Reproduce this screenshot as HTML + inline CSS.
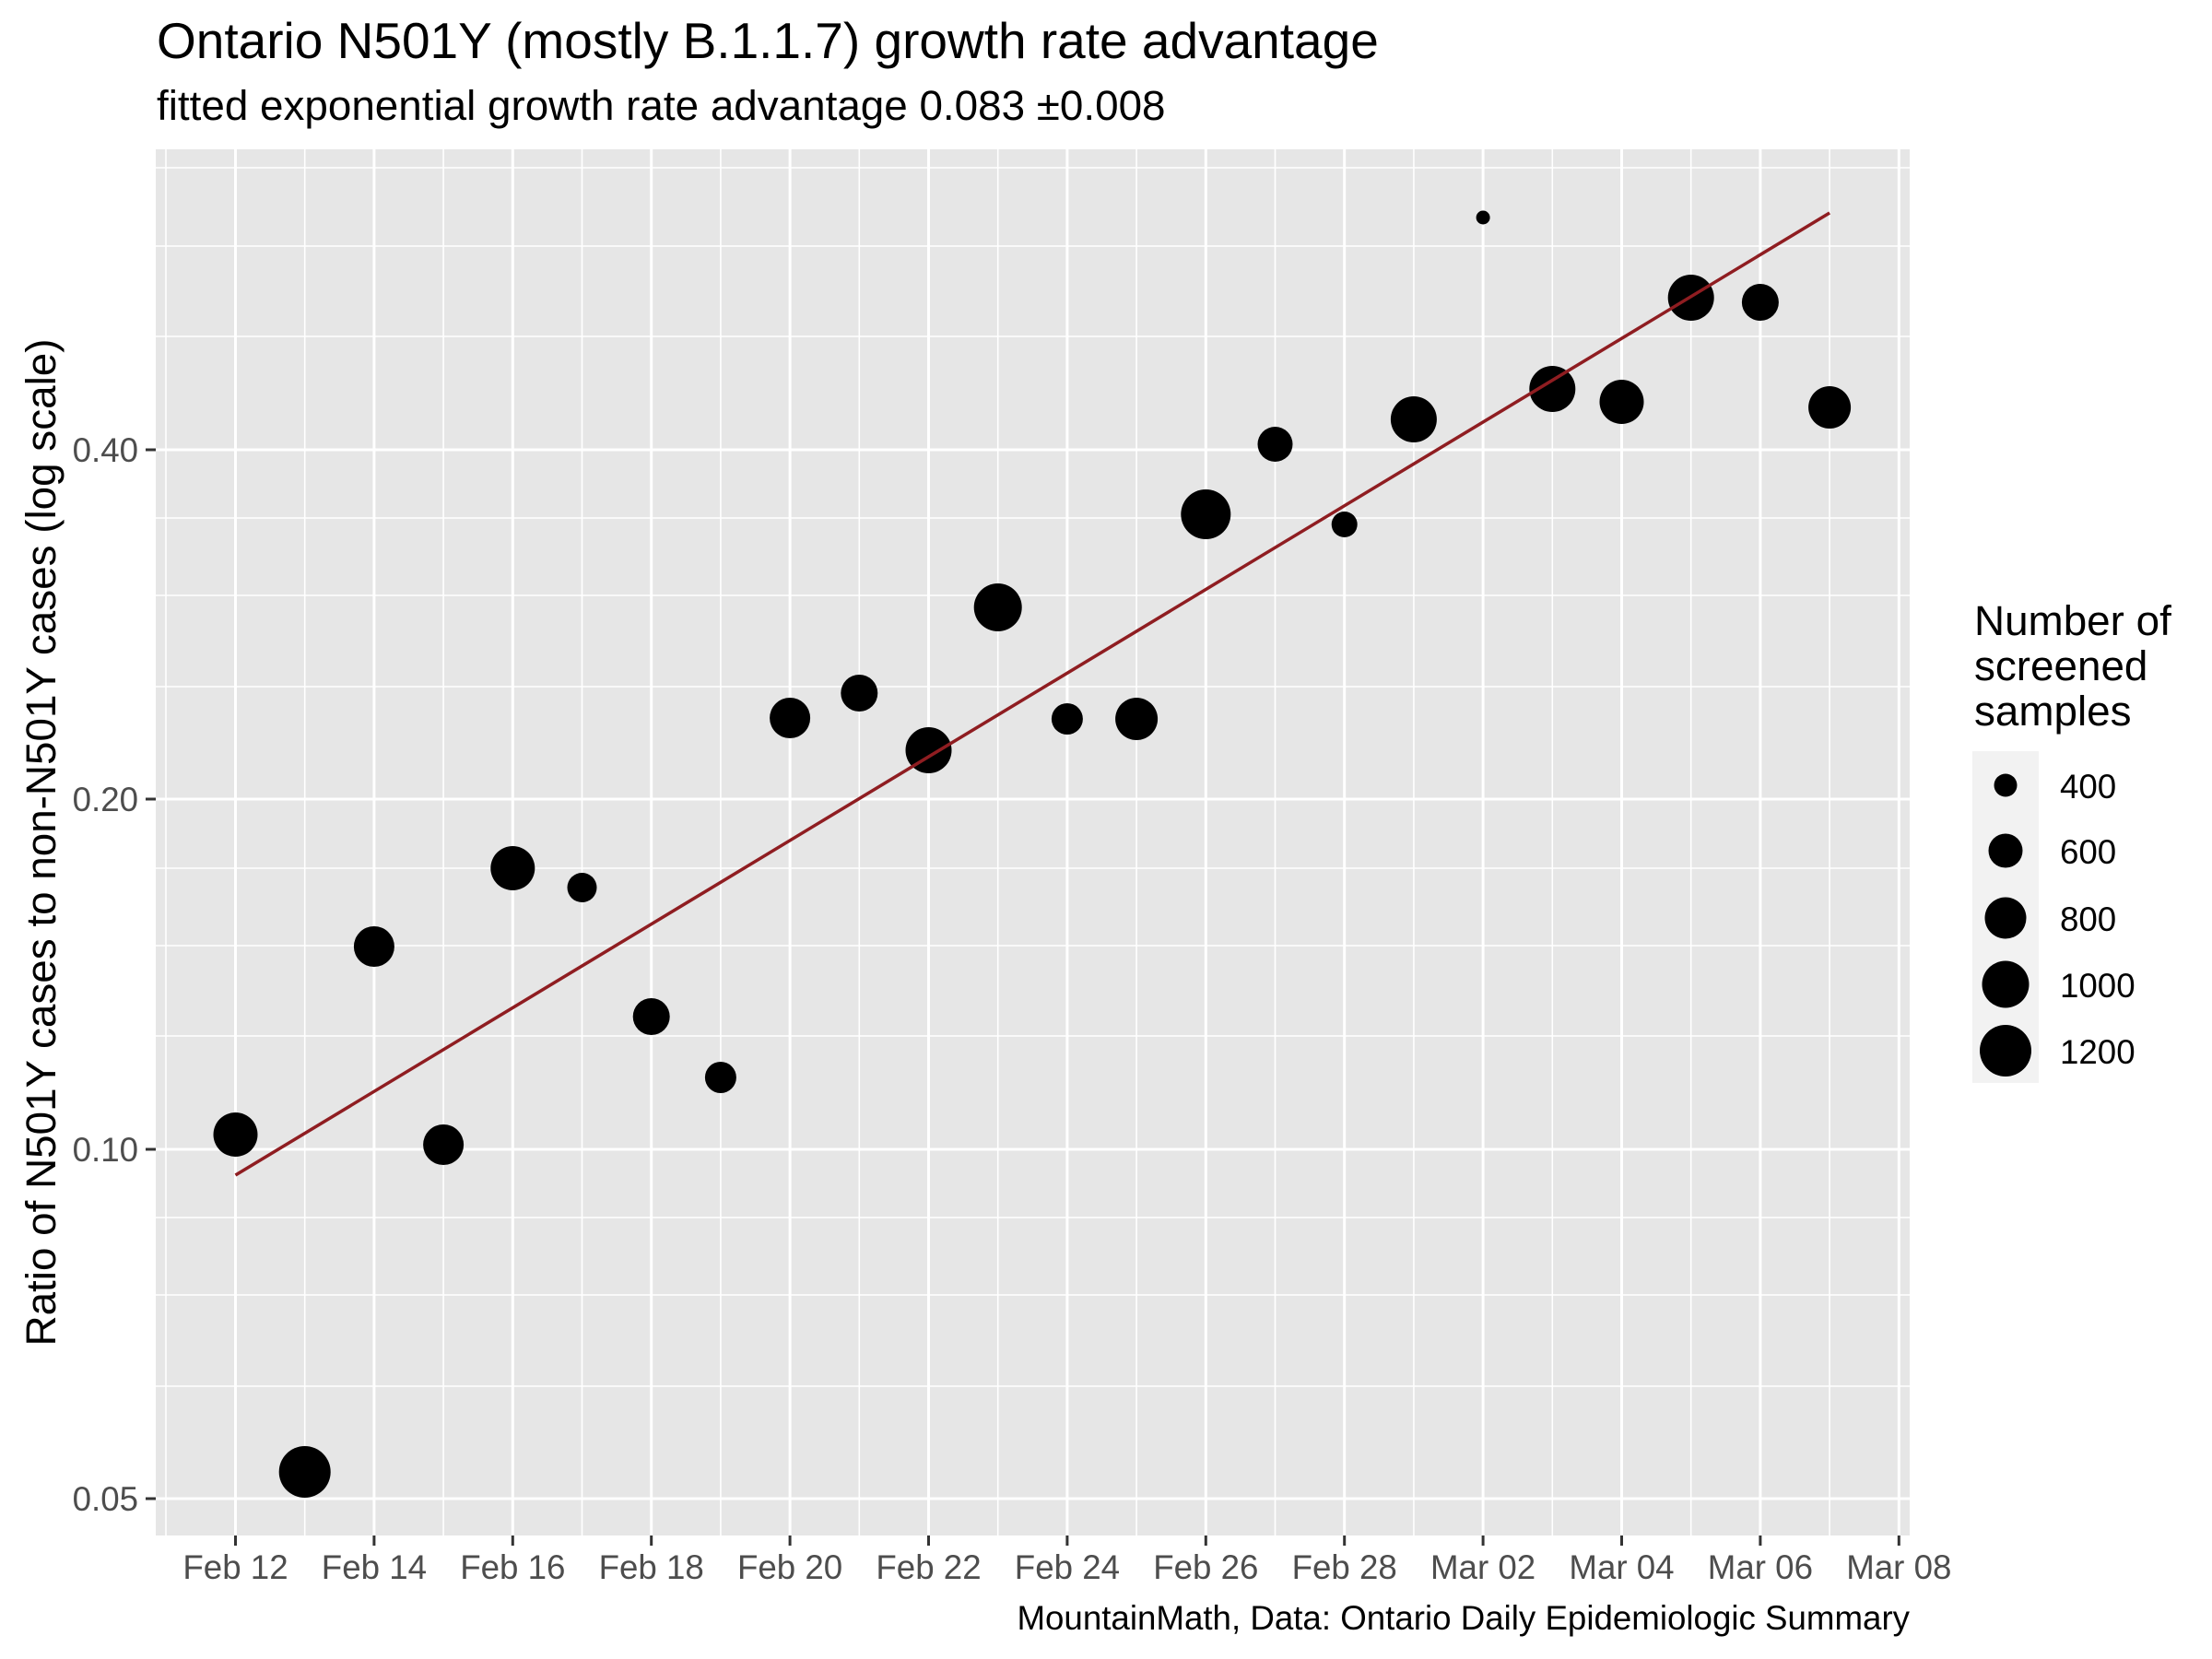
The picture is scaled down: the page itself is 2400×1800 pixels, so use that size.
<!DOCTYPE html>
<html><head><meta charset="utf-8"><style>html,body{margin:0;padding:0;background:#fff}svg{display:block}</style></head>
<body>
<svg width="2400" height="1800" viewBox="0 0 2400 1800" xmlns="http://www.w3.org/2000/svg" font-family="Liberation Sans, Arial, sans-serif">
<rect width="2400" height="1800" fill="#fff"/>
<rect x="169" y="162" width="1903" height="1504" fill="#e6e6e6"/>
<g stroke="#fff" stroke-width="1.6">
<line x1="169" x2="2072" y1="182" y2="182"/><line x1="169" x2="2072" y1="267" y2="267"/><line x1="169" x2="2072" y1="365" y2="365"/>
<line x1="169" x2="2072" y1="562" y2="562"/><line x1="169" x2="2072" y1="646" y2="646"/><line x1="169" x2="2072" y1="745" y2="745"/>
<line x1="169" x2="2072" y1="942" y2="942"/><line x1="169" x2="2072" y1="1026" y2="1026"/><line x1="169" x2="2072" y1="1124" y2="1124"/>
<line x1="169" x2="2072" y1="1321" y2="1321"/><line x1="169" x2="2072" y1="1405" y2="1405"/><line x1="169" x2="2072" y1="1504" y2="1504"/>
<line y1="162" y2="1666" x1="180" x2="180"/><line y1="162" y2="1666" x1="330.7" x2="330.7"/><line y1="162" y2="1666" x1="481.1" x2="481.1"/>
<line y1="162" y2="1666" x1="631.5" x2="631.5"/><line y1="162" y2="1666" x1="781.9" x2="781.9"/><line y1="162" y2="1666" x1="932.3" x2="932.3"/>
<line y1="162" y2="1666" x1="1082.7" x2="1082.7"/><line y1="162" y2="1666" x1="1233.1" x2="1233.1"/><line y1="162" y2="1666" x1="1383.5" x2="1383.5"/>
<line y1="162" y2="1666" x1="1533.9" x2="1533.9"/><line y1="162" y2="1666" x1="1684.3" x2="1684.3"/><line y1="162" y2="1666" x1="1834.7" x2="1834.7"/>
<line y1="162" y2="1666" x1="1985.1" x2="1985.1"/>
</g>
<g stroke="#fff" stroke-width="3">
<line x1="169" x2="2072" y1="488" y2="488"/><line x1="169" x2="2072" y1="867" y2="867"/><line x1="169" x2="2072" y1="1247" y2="1247"/><line x1="169" x2="2072" y1="1626" y2="1626"/>
<line y1="162" y2="1666" x1="255.5" x2="255.5"/><line y1="162" y2="1666" x1="405.9" x2="405.9"/><line y1="162" y2="1666" x1="556.3" x2="556.3"/>
<line y1="162" y2="1666" x1="706.7" x2="706.7"/><line y1="162" y2="1666" x1="857.1" x2="857.1"/><line y1="162" y2="1666" x1="1007.5" x2="1007.5"/>
<line y1="162" y2="1666" x1="1157.9" x2="1157.9"/><line y1="162" y2="1666" x1="1308.3" x2="1308.3"/><line y1="162" y2="1666" x1="1458.7" x2="1458.7"/>
<line y1="162" y2="1666" x1="1609.1" x2="1609.1"/><line y1="162" y2="1666" x1="1759.5" x2="1759.5"/><line y1="162" y2="1666" x1="1909.9" x2="1909.9"/>
<line y1="162" y2="1666" x1="2060.3" x2="2060.3"/>
</g>
<g fill="#000">
<circle cx="255.5" cy="1231" r="24"/><circle cx="330.7" cy="1597" r="28"/><circle cx="405.9" cy="1027" r="22"/>
<circle cx="481.1" cy="1242" r="22"/><circle cx="556.3" cy="942" r="24"/><circle cx="631.5" cy="963" r="16"/>
<circle cx="706.7" cy="1103" r="20"/><circle cx="781.9" cy="1169" r="17"/><circle cx="857.1" cy="779" r="22"/>
<circle cx="932.3" cy="752" r="20"/><circle cx="1007.5" cy="814" r="25"/><circle cx="1082.7" cy="659" r="26"/>
<circle cx="1157.9" cy="780" r="17"/><circle cx="1233.1" cy="780" r="23"/><circle cx="1308.3" cy="558" r="27"/>
<circle cx="1383.5" cy="482" r="19"/><circle cx="1458.7" cy="569" r="14"/><circle cx="1533.9" cy="455" r="25"/>
<circle cx="1609.1" cy="236" r="7.5"/><circle cx="1684.3" cy="422" r="25"/><circle cx="1759.5" cy="436" r="24"/>
<circle cx="1834.7" cy="323" r="25"/><circle cx="1909.9" cy="328" r="20"/><circle cx="1985.1" cy="442" r="23"/>
</g>
<line x1="255.5" y1="1275" x2="1985.1" y2="231" stroke="#8f1d21" stroke-width="3.5"/>
<g stroke="#333" stroke-width="3">
<line x1="158" x2="169" y1="488" y2="488"/><line x1="158" x2="169" y1="867" y2="867"/><line x1="158" x2="169" y1="1247" y2="1247"/><line x1="158" x2="169" y1="1626" y2="1626"/>
<line y1="1666" y2="1677" x1="255.5" x2="255.5"/><line y1="1666" y2="1677" x1="405.9" x2="405.9"/><line y1="1666" y2="1677" x1="556.3" x2="556.3"/>
<line y1="1666" y2="1677" x1="706.7" x2="706.7"/><line y1="1666" y2="1677" x1="857.1" x2="857.1"/><line y1="1666" y2="1677" x1="1007.5" x2="1007.5"/>
<line y1="1666" y2="1677" x1="1157.9" x2="1157.9"/><line y1="1666" y2="1677" x1="1308.3" x2="1308.3"/><line y1="1666" y2="1677" x1="1458.7" x2="1458.7"/>
<line y1="1666" y2="1677" x1="1609.1" x2="1609.1"/><line y1="1666" y2="1677" x1="1759.5" x2="1759.5"/><line y1="1666" y2="1677" x1="1909.9" x2="1909.9"/>
<line y1="1666" y2="1677" x1="2060.3" x2="2060.3"/>
</g>
<g fill="#4d4d4d" font-size="36.7" text-anchor="end">
<text x="150" y="501">0.40</text><text x="150" y="880">0.20</text><text x="150" y="1260">0.10</text><text x="150" y="1639">0.05</text>
</g>
<g fill="#4d4d4d" font-size="36.7" text-anchor="middle">
<text x="255.5" y="1713">Feb 12</text><text x="405.9" y="1713">Feb 14</text><text x="556.3" y="1713">Feb 16</text>
<text x="706.7" y="1713">Feb 18</text><text x="857.1" y="1713">Feb 20</text><text x="1007.5" y="1713">Feb 22</text>
<text x="1157.9" y="1713">Feb 24</text><text x="1308.3" y="1713">Feb 26</text><text x="1458.7" y="1713">Feb 28</text>
<text x="1609.1" y="1713">Mar 02</text><text x="1759.5" y="1713">Mar 04</text><text x="1909.9" y="1713">Mar 06</text>
<text x="2060.3" y="1713">Mar 08</text>
</g>
<text x="0" y="0" font-size="45.8" text-anchor="middle" transform="translate(60,914) rotate(-90)">Ratio of N501Y cases to non-N501Y cases (log scale)</text>
<text x="170" y="63" font-size="55">Ontario N501Y (mostly B.1.1.7) growth rate advantage</text>
<text x="170" y="130" font-size="45.8">fitted exponential growth rate advantage 0.083 ±0.008</text>
<text x="2072" y="1768" font-size="36.7" text-anchor="end">MountainMath, Data: Ontario Daily Epidemiologic Summary</text>
<g font-size="45.8">
<text x="2142" y="689">Number of</text><text x="2142" y="738">screened</text><text x="2142" y="787">samples</text>
</g>
<rect x="2140" y="815" width="72" height="360" fill="#f2f2f2"/>
<g fill="#000">
<circle cx="2176" cy="852" r="12.5"/><circle cx="2176" cy="923" r="18.5"/><circle cx="2176" cy="996" r="22.5"/>
<circle cx="2176" cy="1068" r="25.5"/><circle cx="2176" cy="1140" r="28"/>
</g>
<g font-size="36.7">
<text x="2235" y="866">400</text><text x="2235" y="937">600</text><text x="2235" y="1010">800</text><text x="2235" y="1082">1000</text><text x="2235" y="1154">1200</text>
</g>
</svg>
</body></html>
